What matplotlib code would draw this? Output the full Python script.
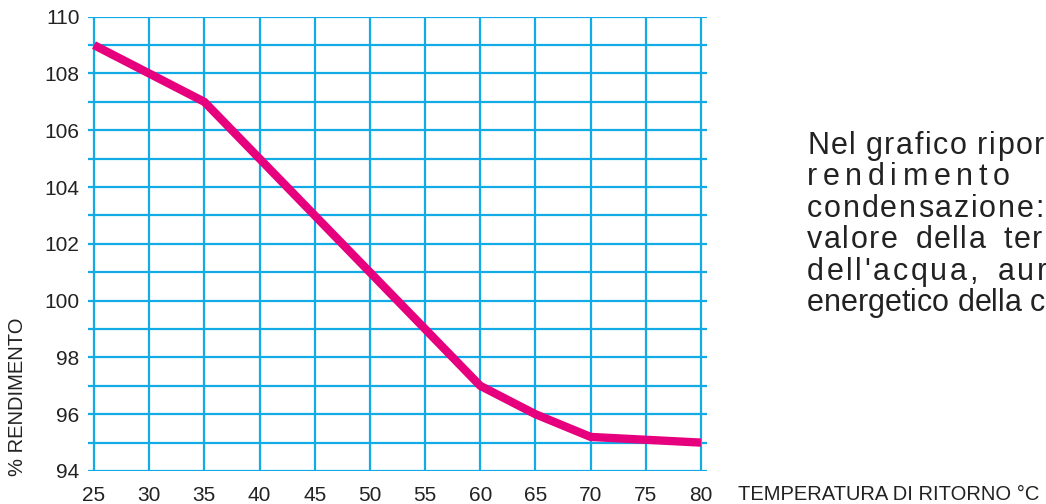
import matplotlib
matplotlib.use("Agg")
import matplotlib.pyplot as plt
from matplotlib.ticker import MultipleLocator

# dati
temperatura = [25, 30, 35, 40, 45, 50, 55, 60, 65, 70, 75, 80]
rendimento = [109, 108, 107, 105, 103, 101, 99, 97, 96, 95.2, 95.1, 95.0]
x_ticks = [25, 30, 35, 40, 45, 50, 55, 60, 65, 70, 75, 80]
y_ticks = [94, 96, 98, 100, 102, 104, 106, 108, 110]

# righe di testo a destra: (testo, spaziatura lettere px, spazio extra parole px)
righe = [
    ("Nel grafico ripor", 1.6, 0),
    ("rendimento", 5.6, 0),
    ("condensazione:", 1.8, 0),
    ("valore della ter", 1.5, 8),
    ("dell'acqua, aur", 2.6, 9),
    ("energetico della c", 0.0, 0),
]

plt.rcParams['font.family'] = ['Liberation Sans', 'DejaVu Sans']

blu = '#12ABE6'
magenta = '#E6007E'

fig = plt.figure(figsize=(10.46, 5.04), dpi=100)
ax = fig.add_axes([88/1046, 33/504, 619/1046, 454.3/504])

ax.plot(temperatura, rendimento, color=magenta, lw=6, solid_joinstyle='miter',
        solid_capstyle='butt', zorder=3)

ax.set_xlim(25 - 6*55/607, 80 + 6*55/607)
ax.set_ylim(94, 110)
ax.set_xticks(x_ticks)
ax.set_yticks(y_ticks)
ax.yaxis.set_minor_locator(MultipleLocator(1))
ax.grid(True, which='major', color=blu, lw=1.6)
ax.grid(True, which='minor', axis='y', color=blu, lw=1.6)
ax.tick_params(which='both', length=0, labelsize=15, colors='#222222')
ax.tick_params(axis='y', pad=6)
ax.tick_params(axis='x', pad=11)
for s in ax.spines.values():
    s.set_visible(False)
ax.set_axisbelow(True)

fig.text(18/1046, 1 - 397/504, "% RENDIMENTO", rotation=90, fontsize=14.5,
         ha='center', va='center', color='#222222')
fig.text(738/1046, 1 - 494/504, "TEMPERATURA DI RITORNO °C", fontsize=14.5,
         ha='left', va='center', color='#222222')

# testo a destra, carattere per carattere per imitare la giustificazione
renderer = fig.canvas.get_renderer()
y0 = 154
for i, (riga, track, extra) in enumerate(righe):
    x = 807
    yb = y0 + i * 31.4
    for ch in riga:
        t = fig.text(x / 1046, 1 - yb / 504, ch, fontsize=22, ha='left',
                     va='baseline', color='#222222')
        if ch == ' ':
            w = t.get_fontsize() * 100 / 72 * 0.278
            x += w + extra
        else:
            w = t.get_window_extent(renderer).width
            x += w + track

fig.savefig("out.png", dpi=100)
